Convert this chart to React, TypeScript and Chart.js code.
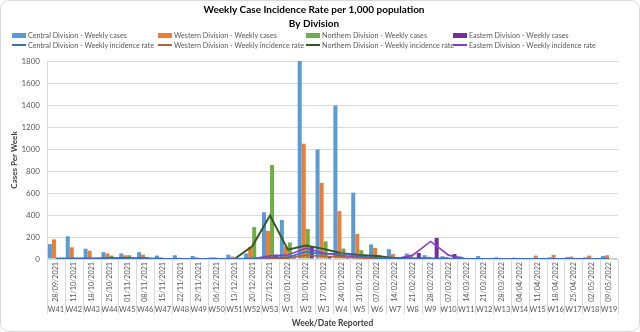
import React, { useEffect, useRef } from "react";
import { Chart, registerables } from "chart.js";

Chart.register(...registerables);

const weeks = ["W41","W42","W43","W44","W45","W46","W47","W48","W49","W50","W51","W52","W53","W1","W2","W3","W4","W5","W6","W7","W8","W9","W10","W11","W12","W13","W14","W15","W16","W17","W18","W19"];
const dates = ["28/09/2021","11/10/2021","18/10/2021","25/10/2021","01/11/2021","08/11/2021","15/11/2021","22/11/2021","29/11/2021","06/12/2021","13/12/2021","20/12/2021","27/12/2021","03/01/2022","10/01/2022","17/01/2022","24/01/2022","31/01/2022","07/02/2022","14/02/2022","21/02/2022","28/02/2022","07/03/2022","14/03/2022","21/03/2022","28/03/2022","04/04/2022","11/04/2022","18/04/2022","25/04/2022","02/05/2022","09/05/2022"];

const centralCases = [135,207,94,62,50,62,31,34,28,15,40,50,425,355,1800,995,1395,603,132,89,50,35,25,22,27,15,12,3,15,19,15,28];
const westernCases = [178,106,75,50,34,40,15,12,15,15,22,110,255,112,1048,692,435,229,100,45,37,20,18,5,8,5,10,31,37,22,31,34];
const northernCases = [0,0,3,31,34,18,2,2,2,2,3,290,855,150,272,160,95,80,35,8,5,6,3,1,1,1,1,1,1,1,1,1];
const easternCases = [0,0,0,0,0,0,0,0,0,0,0,5,40,15,112,25,15,12,5,2,55,192,45,3,2,2,1,1,1,1,1,1];

const centralRate = [0.04,0.06,0.03,0.03,0.02,0.03,0.01,0.01,0.01,0.01,0.02,0.03,0.15,0.15,0.65,0.45,0.5,0.25,0.08,0.05,0.03,0.02,0.02,0.01,0.01,0.01,0.01,0.01,0.01,0.01,0.01,0.01];
const westernRate = [0.05,0.04,0.03,0.02,0.02,0.02,0.01,0.01,0.01,0.01,0.01,0.05,0.1,0.08,0.35,0.25,0.18,0.1,0.05,0.03,0.02,0.01,0.01,0.01,0.01,0.01,0.01,0.02,0.02,0.01,0.02,0.02];
const northernRate = [0.01,0.01,0.02,0.06,0.06,0.04,0.01,0.01,0.01,0.01,0,1.15,3.95,0.85,1.22,0.92,0.52,0.37,0.28,0.08,0.04,0.04,0.02,0.01,0.01,0.01,0.01,0.01,0.01,0.01,0.01,0.01];
const easternRate = [0.02,0.02,0.02,0.02,0.02,0.02,0.02,0.02,0.02,0.02,0.02,0.03,0.28,0.37,0.98,0.55,0.3,0.2,0.08,0,0.35,1.6,0.35,0,0,0,0,0,0,0,0,0];

const yTicksMax = 1800;
const yStep = 200;
const rateAxisMax = 18;

const FONT = "Lato, 'Open Sans', sans-serif";

const barColors = ["#5B9BD5", "#ED7D31", "#70AD47", "#7030A0"];
const lineColors = ["#3E6EC2", "#B8642E", "#385723", "#8A3CC8"];
const divisions = ["Central", "Western", "Northern", "Eastern"];

const separatorPlugin = {
  id: "separators",
  afterDraw(chart: any) {
    const xs = chart.scales.x;
    const x2 = chart.scales.x2;
    const ctx = chart.ctx;
    const n = xs.getLabels().length;
    const w = (xs.right - xs.left) / n;
    ctx.save();
    ctx.strokeStyle = "#d9d9d9";
    ctx.lineWidth = 1;
    for (let i = 0; i <= n; i++) {
      const px = Math.round(xs.getPixelForValue(i) - w / 2) + 0.5;
      ctx.beginPath();
      ctx.moveTo(px, chart.chartArea.bottom);
      ctx.lineTo(px, x2.top + 9);
      ctx.stroke();
    }
    ctx.restore();
  },
};

export default function App() {
  const ref = useRef<HTMLCanvasElement>(null);
  useEffect(() => {
    document.body.style.margin = "0";
    const cases = [centralCases, westernCases, northernCases, easternCases];
    const rates = [centralRate, westernRate, northernRate, easternRate];
    const barSets = cases.map((d, i) => ({
      type: "bar" as const,
      label: `${divisions[i]} Division - Weekly cases`,
      data: d,
      backgroundColor: barColors[i],
      categoryPercentage: 0.9,
      barPercentage: 1.0,
      order: 2,
      yAxisID: "y",
      xAxisID: "x",
    }));
    const lineSets = rates.map((d, i) => ({
      type: "line" as const,
      label: `${divisions[i]} Division - Weekly incidence rate`,
      data: d,
      borderColor: lineColors[i],
      backgroundColor: lineColors[i],
      borderWidth: i === 2 ? 2 : 1.6,
      pointRadius: 0,
      tension: 0,
      order: 1,
      yAxisID: "y1",
      xAxisID: "x",
    }));
    const chart = new Chart(ref.current!, {
      type: "bar",
      data: { labels: dates, datasets: [...barSets, ...lineSets] as any },
      options: {
        responsive: false,
        animation: false,
        layout: { padding: { top: 0, left: 10, right: 22, bottom: 4 } },
        plugins: {
          legend: { display: false },
          tooltip: { enabled: false },
          title: {
            display: true,
            text: ["Weekly Case Incidence Rate per 1,000 population", "By Division"],
            font: { size: 10, weight: "bold", family: FONT, lineHeight: 1.4 },
            color: "#000",
            padding: { top: 3, bottom: 30 },
          },
        },
        scales: {
          x: {
            type: "category",
            position: "bottom",
            offset: true,
            grid: { display: false, drawTicks: false },
            border: { display: false },
            ticks: {
              autoSkip: false,
              minRotation: 90,
              maxRotation: 90,
              padding: 3,
              font: { size: 7.2, family: FONT },
              color: "#595959",
            },
            afterFit: (s: any) => { s.height = 46; },
          },
          x2: {
            type: "category",
            labels: weeks,
            position: "bottom",
            offset: true,
            grid: { display: false, drawTicks: false },
            border: { display: false },
            ticks: {
              autoSkip: false,
              maxRotation: 0,
              minRotation: 0,
              padding: 0,
              font: { size: 7.5, family: FONT },
              color: "#595959",
            },
            title: {
              display: true,
              text: "Week/Date Reported",
              font: { size: 8.5, weight: "bold", family: FONT },
              color: "#404040",
              padding: { top: 2, bottom: 0 },
            },
            afterFit: (s: any) => { s.height = 23; },
          },
          y: {
            min: 0,
            max: yTicksMax,
            ticks: {
              stepSize: yStep,
              font: { size: 8, family: FONT },
              color: "#595959",
              padding: 7,
              callback: (v: any) => String(v),
            },
            grid: { color: "#d9d9d9", drawTicks: false },
            border: { display: true, color: "#d9d9d9" },
            title: {
              display: true,
              text: "Cases Per Week",
              font: { size: 8, weight: "bold", family: FONT },
              color: "#404040",
              padding: { top: 0, bottom: 2 },
            },
            afterFit: (s: any) => { s.width = 37; },
          },
          y1: { display: false, min: 0, max: rateAxisMax },
        },
      } as any,
      plugins: [separatorPlugin],
    });
    return () => chart.destroy();
  }, []);

  const legendCols = [12, 158, 306, 453];
  const legendRows = [30, 40];
  return (
    <div style={{ position: "relative", width: 640, height: 332, fontFamily: FONT }}>
      <canvas ref={ref} width={640} height={332} style={{ display: "block" }} />
      {divisions.map((d, i) => (
        <React.Fragment key={d}>
          <div style={{ position: "absolute", left: legendCols[i], top: legendRows[0], display: "flex", alignItems: "center", fontSize: 7.2, color: "#595959", whiteSpace: "nowrap", height: 10 }}>
            <span style={{ display: "inline-block", width: 14, height: 5, background: barColors[i], marginRight: 2 }} />
            <span>{`${d} Division - Weekly cases`}</span>
          </div>
          <div style={{ position: "absolute", left: legendCols[i], top: legendRows[1], display: "flex", alignItems: "center", fontSize: 7.2, color: "#595959", whiteSpace: "nowrap", height: 10 }}>
            <span style={{ display: "inline-block", width: 14, height: 2, background: lineColors[i], marginRight: 2 }} />
            <span>{`${d} Division - Weekly incidence rate`}</span>
          </div>
        </React.Fragment>
      ))}
      <div style={{ position: "absolute", left: 0, top: 0, width: 640, height: 332, boxSizing: "border-box", border: "1px solid #d9d9d9", borderRadius: 9, pointerEvents: "none" }} />
    </div>
  );
}
